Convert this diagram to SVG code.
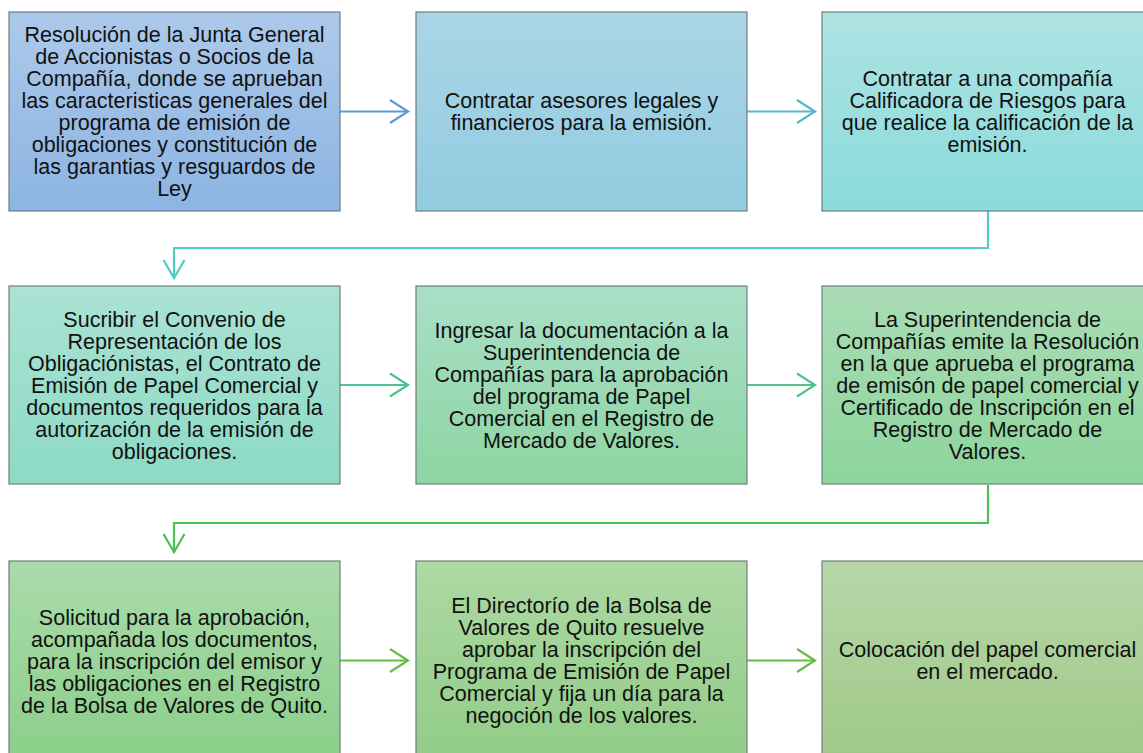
<svg xmlns="http://www.w3.org/2000/svg" width="1143" height="753" viewBox="0 0 1143 753">
<style>
.box{stroke:#6f7f7f;stroke-width:1.2}
.t{font-family:"Liberation Sans",Arial,sans-serif;font-size:21.5px;fill:#111111;text-anchor:middle}
.c{fill:none;stroke-width:2.2}
</style>
<defs>
<linearGradient id="g11" x1="0" y1="0" x2="0" y2="1"><stop offset="0" stop-color="#acc9ea"/><stop offset="1" stop-color="#8db4e2"/></linearGradient>
<linearGradient id="g12" x1="0" y1="0" x2="0" y2="1"><stop offset="0" stop-color="#aad5e7"/><stop offset="1" stop-color="#93cbdf"/></linearGradient>
<linearGradient id="g13" x1="0" y1="0" x2="0" y2="1"><stop offset="0" stop-color="#aee3e3"/><stop offset="1" stop-color="#8bdbdb"/></linearGradient>
<linearGradient id="g21" x1="0" y1="0" x2="0" y2="1"><stop offset="0" stop-color="#abe2d3"/><stop offset="1" stop-color="#8cdac5"/></linearGradient>
<linearGradient id="g22" x1="0" y1="0" x2="0" y2="1"><stop offset="0" stop-color="#a9dfc7"/><stop offset="1" stop-color="#8ed5a2"/></linearGradient>
<linearGradient id="g23" x1="0" y1="0" x2="0" y2="1"><stop offset="0" stop-color="#aadcb5"/><stop offset="1" stop-color="#8dd59c"/></linearGradient>
<linearGradient id="g31" x1="0" y1="0" x2="0" y2="1"><stop offset="0" stop-color="#aadbaa"/><stop offset="1" stop-color="#8bcf8a"/></linearGradient>
<linearGradient id="g32" x1="0" y1="0" x2="0" y2="1"><stop offset="0" stop-color="#add9a3"/><stop offset="1" stop-color="#92cc88"/></linearGradient>
<linearGradient id="g33" x1="0" y1="0" x2="0" y2="1"><stop offset="0" stop-color="#b7d7a8"/><stop offset="1" stop-color="#9fc888"/></linearGradient>
<marker id="mA" viewBox="-21 -14 24 28" markerWidth="24" markerHeight="28" refX="0" refY="0" markerUnits="userSpaceOnUse" orient="auto"><path d="M-18,-11.5 L0,0 L-18,11.5" fill="none" stroke="#5b9bd5" stroke-width="2.2"/></marker>
<marker id="mB" viewBox="-21 -14 24 28" markerWidth="24" markerHeight="28" refX="0" refY="0" markerUnits="userSpaceOnUse" orient="auto"><path d="M-18,-11.5 L0,0 L-18,11.5" fill="none" stroke="#50b8d2" stroke-width="2.2"/></marker>
<marker id="mC" viewBox="-21 -14 24 28" markerWidth="24" markerHeight="28" refX="0" refY="0" markerUnits="userSpaceOnUse" orient="auto"><path d="M-18,-10.5 L0,0 L-18,10.5" fill="none" stroke="#4ecdc6" stroke-width="2.2"/></marker>
<marker id="mD" viewBox="-21 -14 24 28" markerWidth="24" markerHeight="28" refX="0" refY="0" markerUnits="userSpaceOnUse" orient="auto"><path d="M-18,-11.5 L0,0 L-18,11.5" fill="none" stroke="#4cc48e" stroke-width="2.2"/></marker>
<marker id="mE" viewBox="-21 -14 24 28" markerWidth="24" markerHeight="28" refX="0" refY="0" markerUnits="userSpaceOnUse" orient="auto"><path d="M-18,-10.5 L0,0 L-18,10.5" fill="none" stroke="#47c257" stroke-width="2.2"/></marker>
<marker id="mF" viewBox="-21 -14 24 28" markerWidth="24" markerHeight="28" refX="0" refY="0" markerUnits="userSpaceOnUse" orient="auto"><path d="M-18,-11.5 L0,0 L-18,11.5" fill="none" stroke="#66bd45" stroke-width="2.2"/></marker>
</defs>
<rect width="1143" height="753" fill="#ffffff"/>
<g id="connectors">
<path class="c" d="M340,111.5 H408" stroke="#5b9bd5" marker-end="url(#mA)"/>
<path class="c" d="M747,111.5 H815" stroke="#50b8d2" marker-end="url(#mB)"/>
<path class="c" d="M988,211 V248 H174 V278" stroke="#4ecdc6" marker-end="url(#mC)"/>
<path class="c" d="M340,385 H408" stroke="#4cc48e" marker-end="url(#mD)"/>
<path class="c" d="M747,385 H815" stroke="#4cc48a" marker-end="url(#mD)"/>
<path class="c" d="M988,485 V523 H174 V552" stroke="#47c257" marker-end="url(#mE)"/>
<path class="c" d="M340,660.5 H408" stroke="#66bd45" marker-end="url(#mF)"/>
<path class="c" d="M747,660.5 H815" stroke="#66bd45" marker-end="url(#mF)"/>
</g>
<g id="n1">
<rect class="box" x="9" y="12" width="331" height="199" fill="url(#g11)"/>
<text class="t" x="174.5" y="42"><tspan x="174.5">Resolución de la Junta General</tspan><tspan x="174.5" dy="22">de Accionistas o Socios de la</tspan><tspan x="174.5" dy="22">Compañía, donde se aprueban</tspan><tspan x="174.5" dy="22">las caracteristicas generales del</tspan><tspan x="174.5" dy="22">programa de emisión de</tspan><tspan x="174.5" dy="22">obligaciones y constitución de</tspan><tspan x="174.5" dy="22">las garantias y resguardos de</tspan><tspan x="174.5" dy="22">Ley</tspan></text>
</g>
<g id="n2">
<rect class="box" x="416" y="12" width="331" height="199" fill="url(#g12)"/>
<text class="t" x="581.5" y="108"><tspan x="581.5">Contratar asesores legales y</tspan><tspan x="581.5" dy="22">financieros para la emisión.</tspan></text>
</g>
<g id="n3">
<rect class="box" x="822" y="12" width="331" height="199" fill="url(#g13)"/>
<text class="t" x="987.5" y="86"><tspan x="987.5">Contratar a una compañía</tspan><tspan x="987.5" dy="22">Calificadora de Riesgos para</tspan><tspan x="987.5" dy="22">que realice la calificación de la</tspan><tspan x="987.5" dy="22">emisión.</tspan></text>
</g>
<g id="n4">
<rect class="box" x="9" y="286" width="331" height="198" fill="url(#g21)"/>
<text class="t" x="174.5" y="326.5"><tspan x="174.5">Sucribir el Convenio de</tspan><tspan x="174.5" dy="22">Representación de los</tspan><tspan x="174.5" dy="22">Obligaciónistas, el Contrato de</tspan><tspan x="174.5" dy="22">Emisión de Papel Comercial y</tspan><tspan x="174.5" dy="22">documentos requeridos para la</tspan><tspan x="174.5" dy="22">autorización de la emisión de</tspan><tspan x="174.5" dy="22">obligaciones.</tspan></text>
</g>
<g id="n5">
<rect class="box" x="416" y="286" width="331" height="198" fill="url(#g22)"/>
<text class="t" x="581.5" y="337.5"><tspan x="581.5">Ingresar la documentación a la</tspan><tspan x="581.5" dy="22">Superintendencia de</tspan><tspan x="581.5" dy="22">Compañías para la aprobación</tspan><tspan x="581.5" dy="22">del programa de Papel</tspan><tspan x="581.5" dy="22">Comercial en el Registro de</tspan><tspan x="581.5" dy="22">Mercado de Valores.</tspan></text>
</g>
<g id="n6">
<rect class="box" x="822" y="286" width="331" height="198" fill="url(#g23)"/>
<text class="t" x="987.5" y="326.5"><tspan x="987.5">La Superintendencia de</tspan><tspan x="987.5" dy="22">Compañías emite la Resolución</tspan><tspan x="987.5" dy="22">en la que aprueba el programa</tspan><tspan x="987.5" dy="22">de emisón de papel comercial y</tspan><tspan x="987.5" dy="22">Certificado de Inscripción en el</tspan><tspan x="987.5" dy="22">Registro de Mercado de</tspan><tspan x="987.5" dy="22">Valores.</tspan></text>
</g>
<g id="n7">
<rect class="box" x="9" y="561" width="331" height="199" fill="url(#g31)"/>
<text class="t" x="174.5" y="624.5"><tspan x="174.5">Solicitud para la aprobación,</tspan><tspan x="174.5" dy="22">acompañada los documentos,</tspan><tspan x="174.5" dy="22">para la inscripción del emisor y</tspan><tspan x="174.5" dy="22">las obligaciones en el Registro</tspan><tspan x="174.5" dy="22">de la Bolsa de Valores de Quito.</tspan></text>
</g>
<g id="n8">
<rect class="box" x="416" y="561" width="331" height="199" fill="url(#g32)"/>
<text class="t" x="581.5" y="613"><tspan x="581.5">El Directorío de la Bolsa de</tspan><tspan x="581.5" dy="22">Valores de Quito resuelve</tspan><tspan x="581.5" dy="22">aprobar la inscripción del</tspan><tspan x="581.5" dy="22">Programa de Emisión de Papel</tspan><tspan x="581.5" dy="22">Comercial y fija un día para la</tspan><tspan x="581.5" dy="22">negoción de los valores.</tspan></text>
</g>
<g id="n9">
<rect class="box" x="822" y="561" width="331" height="199" fill="url(#g33)"/>
<text class="t" x="987.5" y="657"><tspan x="987.5">Colocación del papel comercial</tspan><tspan x="987.5" dy="22">en el mercado.</tspan></text>
</g>
</svg>
